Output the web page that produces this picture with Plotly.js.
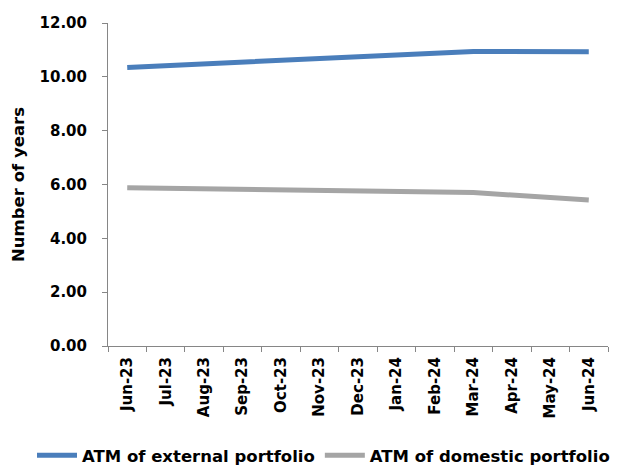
<!DOCTYPE html>
<html>
<head>
<meta charset="utf-8">
<script src="https://cdn.plot.ly/plotly-3.0.1.min.js"></script>
<style>html,body{margin:0;padding:0;background:#fff;}#chart{width:624px;height:466px;}</style>
</head>
<body>
<div id="chart"></div>
<script>
const months = ['Jun-23','Jul-23','Aug-23','Sep-23','Oct-23','Nov-23','Dec-23','Jan-24','Feb-24','Mar-24','Apr-24','May-24','Jun-24'];
const externalATM = [10.35, null, null, 10.55, null, null, 10.74, null, null, 10.94, null, null, 10.93];
const domesticATM = [5.88, null, null, 5.82, null, null, 5.76, null, null, 5.70, null, null, 5.42];
const seriesNames = ['ATM of external portfolio', 'ATM of domestic portfolio'];
const yTitle = 'Number of years';

const FONT = '"DejaVu Sans", Verdana, sans-serif';
const axisColor = '#868686';

const traces = [
  {x: months, y: externalATM, name: seriesNames[0], type: 'scatter', mode: 'lines', connectgaps: true,
   line: {color: '#4a7ebb', width: 5}},
  {x: months, y: domesticATM, name: seriesNames[1], type: 'scatter', mode: 'lines', connectgaps: true,
   line: {color: '#a5a5a5', width: 5}}
];

const layout = {
  width: 624, height: 466,
  margin: {l: 108, r: 16, t: 23, b: 120, autoexpand: false},
  paper_bgcolor: '#fff', plot_bgcolor: '#fff',
  font: {family: FONT, size: 15, color: '#000', weight: 'bold'},
  showlegend: true,
  legend: {orientation: 'h', x: -0.152, xanchor: 'left', y: -0.285, yanchor: 'top',
           font: {family: FONT, size: 16.5, color: '#000', weight: 'bold'}, itemwidth: 40, tracegroupgap: 0},
  xaxis: {type: 'category', range: [-0.5, 12.5], tickangle: -90, showline: true, linecolor: axisColor, linewidth: 1,
          ticks: 'outside', tickson: 'boundaries', ticklen: 5, tickcolor: axisColor, showgrid: false, zeroline: false,
          ticklabelstandoff: 4, automargin: false,
          tickfont: {family: FONT, size: 15, color: '#000', weight: 'bold'}, fixedrange: true},
  yaxis: {range: [0, 12], dtick: 2, tickformat: '.2f', showline: true, linecolor: axisColor, linewidth: 1,
          ticks: 'outside', ticklen: 5, tickcolor: axisColor, showgrid: false, zeroline: false, ticklabelstandoff: 12,
          automargin: false,
          tickfont: {family: FONT, size: 15, color: '#000', weight: 'bold'},
          title: {text: yTitle, font: {family: FONT, size: 16.5, color: '#000', weight: 'bold'}, standoff: 10}, fixedrange: true}
};

Plotly.newPlot('chart', traces, layout, {displayModeBar: false, staticPlot: true});
</script>
</body>
</html>
